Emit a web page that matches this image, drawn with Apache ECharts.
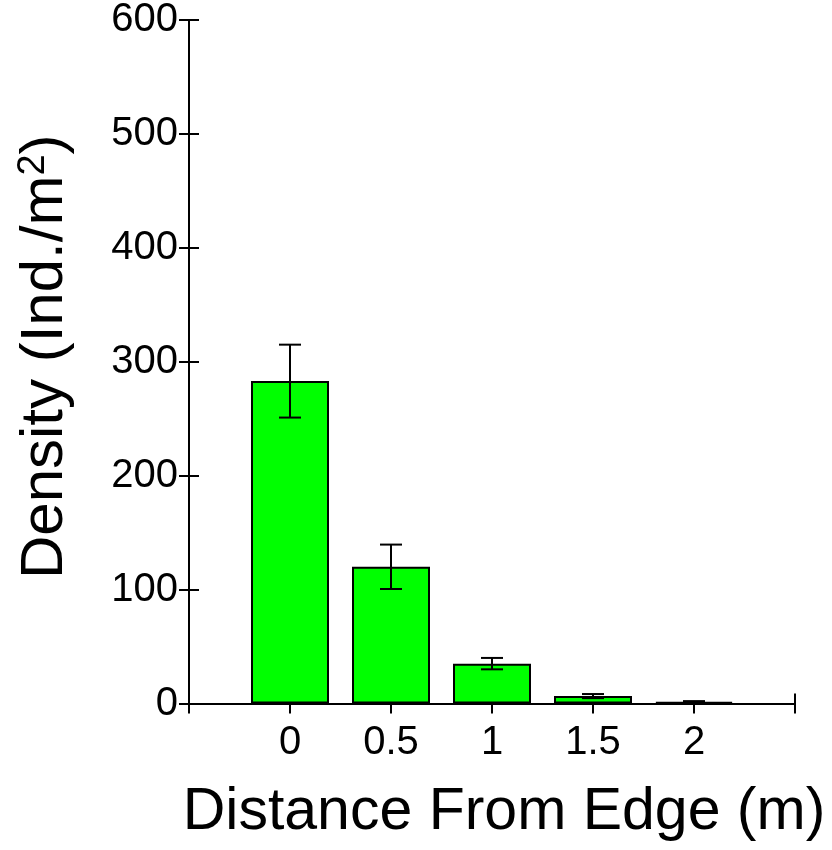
<!DOCTYPE html>
<html>
<head>
<meta charset="utf-8">
<script src="https://cdn.jsdelivr.net/npm/echarts@6/dist/echarts.min.js"></script>
<style>
html,body{margin:0;padding:0;background:#fff;}
#chart{width:832px;height:850px;}
</style>
</head>
<body>
<div id="chart"></div>
<script>
// Data
const distances = [0, 0.5, 1, 1.5, 2];
const density = [283, 120, 35, 6.5, 1.5];
const errors = [32, 19.5, 5, 1.8, 0.6];
const yTicks = [0, 100, 200, 300, 400, 500, 600];

const FONT = "'Liberation Sans', Arial, Helvetica, sans-serif";
const chart = echarts.init(document.getElementById('chart'), null, {renderer: 'canvas'});

const barData = distances.map((d, i) => [d, density[i]]);
const errData = distances.map((d, i) => [d, density[i] - errors[i], density[i] + errors[i]]);

const option = {
  backgroundColor: '#fff',
  animation: false,
  grid: {left: 189, right: 37, top: 20, bottom: 146.5, containLabel: false},
  xAxis: [{
    type: 'value',
    min: -0.5, max: 2.5, interval: 0.5,
    name: 'Distance From Edge (m)',
    nameLocation: 'middle',
    nameGap: 80,
    nameTextStyle: {fontFamily: FONT, fontSize: 59, color: '#000', padding: [0, 0, 0, 24]},
    axisLine: {show: true, onZero: false, lineStyle: {color: '#000', width: 2}},
    axisTick: {show: true, length: 10, lineStyle: {color: '#000', width: 2}},
    axisLabel: {
      fontFamily: FONT, fontSize: 40, color: '#000', margin: 19,
      formatter: v => (v < 0 || v > 2) ? '' : String(v)
    },
    splitLine: {show: false}
  }, {
    type: 'value',
    min: -0.5, max: 2.5, interval: 3,
    position: 'bottom',
    axisLine: {show: false, onZero: false},
    axisTick: {show: true, inside: true, length: 10, lineStyle: {color: '#000', width: 2}},
    axisLabel: {show: false},
    splitLine: {show: false}
  }],
  yAxis: [{
    type: 'value',
    min: yTicks[0], max: yTicks[yTicks.length - 1], interval: 100,
    name: '{a|Density (Ind./m}{s|2}{a|)}',
    nameLocation: 'middle',
    nameGap: 114,
    nameRotate: 90,
    nameTextStyle: {
      fontFamily: FONT, fontSize: 60, color: '#000', padding: [0, 0, 0, 10],
      rich: {
        a: {fontFamily: FONT, fontSize: 60, color: '#000'},
        s: {fontFamily: FONT, fontSize: 38, color: '#000', verticalAlign: 'top'}
      }
    },
    axisLine: {show: true, onZero: false, lineStyle: {color: '#000', width: 2}},
    axisTick: {show: true, length: 10, lineStyle: {color: '#000', width: 2}},
    axisLabel: {fontFamily: FONT, fontSize: 40, color: '#000', margin: 11},
    splitLine: {show: false}
  }, {
    type: 'value',
    min: yTicks[0], max: yTicks[yTicks.length - 1], interval: 100,
    position: 'left',
    axisLine: {show: false, onZero: false},
    axisTick: {show: true, inside: true, length: 10, lineStyle: {color: '#000', width: 2}},
    axisLabel: {show: false},
    splitLine: {show: false}
  }],
  series: [{
    type: 'bar',
    xAxisIndex: 0, yAxisIndex: 0,
    data: barData,
    barWidth: 78,
    itemStyle: {color: '#00ff00', borderColor: '#000', borderWidth: 2},
    z: 2
  }, {
    type: 'custom',
    xAxisIndex: 0, yAxisIndex: 0,
    data: errData,
    z: 3,
    renderItem: function (params, api) {
      const x = api.value(0);
      const lo = api.coord([x, api.value(1)]);
      const hi = api.coord([x, api.value(2)]);
      const half = 11;
      const style = {stroke: '#000', lineWidth: 2};
      return {
        type: 'group',
        children: [
          {type: 'line', shape: {x1: lo[0], y1: lo[1], x2: hi[0], y2: hi[1]}, style},
          {type: 'line', shape: {x1: hi[0] - half, y1: hi[1], x2: hi[0] + half, y2: hi[1]}, style},
          {type: 'line', shape: {x1: lo[0] - half, y1: lo[1], x2: lo[0] + half, y2: lo[1]}, style}
        ]
      };
    }
  }]
};
chart.setOption(option);
</script>
</body>
</html>
